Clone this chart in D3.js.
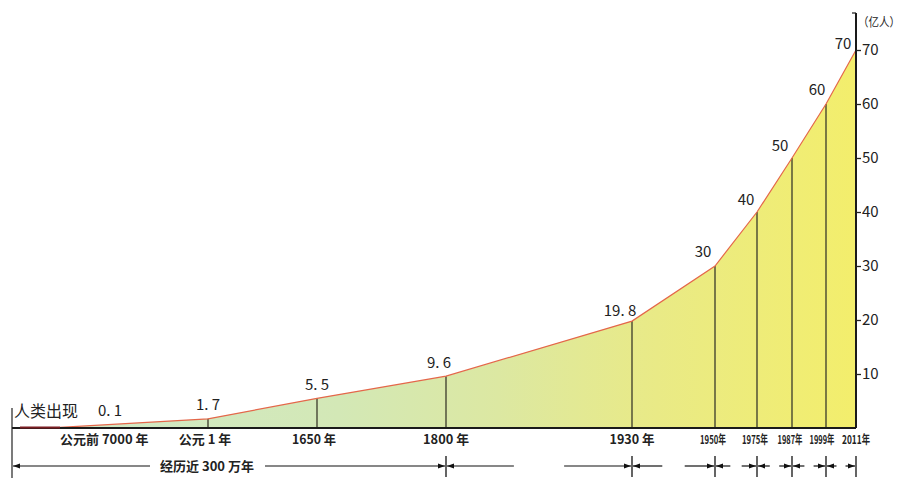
<!DOCTYPE html>
<html><head><meta charset="utf-8">
<script src="https://cdn.jsdelivr.net/npm/d3@7"></script>
<style>
html,body{margin:0;padding:0;background:#fff;}
svg{display:block;}
text{font-family:"Noto Sans CJK SC","Liberation Sans",sans-serif;fill:#222;}
</style></head>
<body><svg id="c" width="903" height="481"></svg>
<script>
// ---- data ----
const years = [-7000, 1, 1650, 1800, 1930, 1950, 1975, 1987, 1999, 2011];
const population = [0.1, 1.7, 5.5, 9.6, 19.8, 30, 40, 50, 60, 70]; // 亿人
const yearLabels = ["公元前 7000 年", "公元 1 年", "1650 年", "1800 年", "1930 年", "1950年", "1975年", "1987年", "1999年", "2011年"];
const yTicks = [10, 20, 30, 40, 50, 60, 70];
const originYear = -3000000;      // 人类出现
const originLabel = "人类出现";
const spanLabel = "经历近 300 万年";
const unitLabel = "（亿人）";

// ---- layout ----
const svg = d3.select("#c");
const baseY = 428, leftX = 12, axisX = 856;
const x = d3.scaleLinear()
  .domain([originYear, ...years])
  .range([20, 60, 208, 317, 446, 632, 715, 757, 792, 826, 856]);
const y = d3.scaleLinear().domain([0, 70]).range([baseY, 50]);

const pts = years.map((yr, i) => ({yr, v: population[i], label: yearLabels[i]}));

// helper: squeeze a text horizontally to a given width
function squeeze(sel, width, anchor) {
  sel.each(function(d, i) {
    const t = d3.select(this);
    const w = typeof width === "function" ? width(d, i) : width;
    const nat = this.getComputedTextLength();
    const s = Math.min(1, w / nat);
    const tx = +t.attr("data-x"), ty = +t.attr("data-y");
    t.attr("x", 0).attr("y", 0)
      .attr("transform", `translate(${tx},${ty}) scale(${s},1)`);
  });
}

// gradient
const defs = svg.append("defs");
const g = defs.append("linearGradient").attr("id", "fillg")
  .attr("gradientUnits", "userSpaceOnUse")
  .attr("x1", x(-7000)).attr("x2", axisX).attr("y1", 0).attr("y2", 0);
[[0, "#d0e9c8"], [0.35, "#d3e8b6"], [0.55, "#dce8a2"], [0.75, "#e9ea86"], [1, "#f3ee6c"]]
  .forEach(([o, c]) => g.append("stop").attr("offset", o).attr("stop-color", c));

const mk = defs.append("marker").attr("id", "arr").attr("viewBox", "0 0 10 10")
  .attr("refX", 10).attr("refY", 5).attr("markerWidth", 7).attr("markerHeight", 7)
  .attr("markerUnits", "userSpaceOnUse").attr("orient", "auto-start-reverse");
mk.append("path").attr("d", "M0,1.5L10,5L0,8.5Z").attr("fill", "#111");

// area
svg.append("path").datum(pts)
  .attr("fill", "url(#fillg)")
  .attr("d", d3.area().x(d => x(d.yr)).y0(baseY).y1(d => y(d.v)));

// vertical drop lines
svg.selectAll("line.drop").data(pts.slice(1)).join("line")
  .attr("x1", d => x(d.yr)).attr("x2", d => x(d.yr))
  .attr("y1", d => y(d.v)).attr("y2", baseY)
  .attr("stroke", "#3a3a2a").attr("stroke-width", 1.3);

// curve
svg.append("path").datum(pts)
  .attr("fill", "none").attr("stroke", "#e4674a").attr("stroke-width", 1.2)
  .attr("d", d3.line().x(d => x(d.yr)).y(d => y(d.v)));

// baseline
svg.append("line").attr("x1", leftX).attr("x2", axisX).attr("y1", baseY).attr("y2", baseY)
  .attr("stroke", "#1a1a1a").attr("stroke-width", 2);
// early segment
svg.append("line").attr("x1", x(originYear)).attr("x2", x(-7000)).attr("y1", baseY - 0.5).attr("y2", baseY - 0.5)
  .attr("stroke", "#7a1d22").attr("stroke-width", 2);
// left bracket line
svg.append("line").attr("x1", leftX).attr("x2", leftX).attr("y1", 408).attr("y2", 478)
  .attr("stroke", "#222").attr("stroke-width", 1.2);

// origin label
svg.append("text").attr("x", 14).attr("y", 417).attr("font-size", 16).text(originLabel);

// value labels
const off = [[38, -11, "start"], [0, -9, "middle"], [0, -8, "middle"], [-7, -8, "middle"], [-12, -5, "middle"],
  [-12, -9, "middle"], [-11, -7, "middle"], [-12, -7, "middle"], [-9, -9, "middle"], [-13, -1, "middle"]];
svg.selectAll("text.val").data(pts).join("text")
  .attr("x", (d, i) => x(d.yr) + off[i][0]).attr("y", (d, i) => y(d.v) + off[i][1])
  .attr("text-anchor", (d, i) => off[i][2])
  .attr("font-family", "Liberation Sans Narrow, Liberation Sans, sans-serif")
  .attr("font-size", 15)
  .text(d => String(d.v).replace(".", ". "));

// year labels
const yrShift = [0, -3, -3, 0, 0, -2, -2, -2, -4, 0];
const yrW = [92, 58, 44, 46, 45, 26, 26, 25, 25, 28];
svg.selectAll("text.yr").data(pts).join("text")
  .attr("class", "yr")
  .attr("data-x", (d, i) => x(d.yr) + yrShift[i])
  .attr("data-y", 444)
  .attr("text-anchor", (d, i) => i === 0 ? "start" : "middle")
  .attr("font-size", (d, i) => i < 5 ? 13 : 12)
  .attr("font-weight", "bold")
  .text(d => d.label)
  .call(squeeze, (d, i) => yrW[i]);

// y axis
svg.append("line").attr("x1", axisX).attr("x2", axisX).attr("y1", 13).attr("y2", baseY)
  .attr("stroke", "#1a1a1a").attr("stroke-width", 2);
svg.append("line").attr("x1", axisX - 4).attr("x2", axisX).attr("y1", 13).attr("y2", 13)
  .attr("stroke", "#1a1a1a").attr("stroke-width", 1.2);
const yAxis = d3.axisRight(y).tickValues(yTicks).tickSize(5).tickPadding(1);
const ya = svg.append("g").attr("transform", `translate(${axisX},0)`).call(yAxis);
ya.select(".domain").remove();
ya.selectAll(".tick line").attr("stroke", "#222").attr("stroke-width", 1.3);
ya.selectAll(".tick text").attr("font-size", 15).attr("fill", "#222")
  .attr("font-family", "Liberation Sans Narrow, Liberation Sans, sans-serif");
svg.append("text").attr("data-x", 858).attr("data-y", 27).attr("font-size", 12)
  .text(unitLabel).call(squeeze, 42);

// arrow row
const arrowY = 466;
const divs = [leftX, ...years.slice(3).map(v => x(v))];
for (let i = 0; i < divs.length - 1; i++) {
  const a = divs[i], b = divs[i + 1], len = b - a;
  let g1, g2;
  if (i === 0) { g1 = 150; g2 = 265; }
  else {
    const gap = Math.max(9, len * 0.27);
    g1 = (a + b) / 2 - gap / 2; g2 = (a + b) / 2 + gap / 2;
  }
  svg.append("line").attr("x1", g1).attr("x2", a + 1).attr("y1", arrowY).attr("y2", arrowY)
    .attr("stroke", "#111").attr("stroke-width", 1.2).attr("marker-end", "url(#arr)");
  svg.append("line").attr("x1", g2).attr("x2", b - 1).attr("y1", arrowY).attr("y2", arrowY)
    .attr("stroke", "#111").attr("stroke-width", 1.2).attr("marker-end", "url(#arr)");
}
svg.selectAll("line.tk").data(divs.slice(1)).join("line")
  .attr("x1", d => d).attr("x2", d => d).attr("y1", 456).attr("y2", 477)
  .attr("stroke", "#111").attr("stroke-width", 1.3);
svg.append("text").attr("data-x", 207).attr("data-y", 471).attr("text-anchor", "middle")
  .attr("font-size", 13).attr("font-weight", "bold")
  .text(spanLabel).call(squeeze, 100);
</script></body></html>
